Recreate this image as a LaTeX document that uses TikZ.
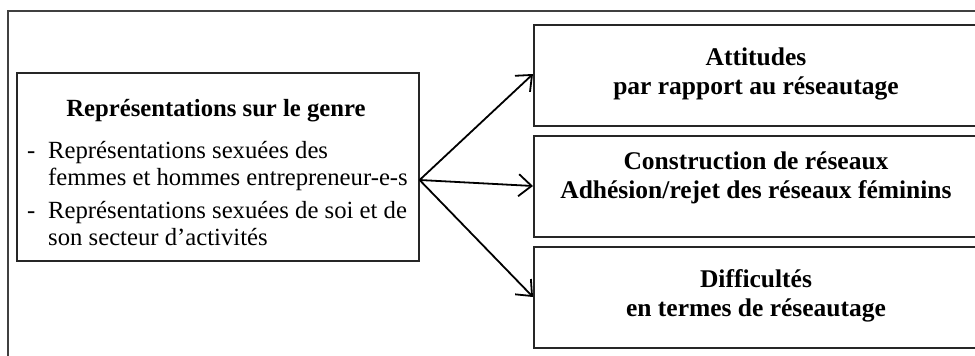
\documentclass[tikz,border=0pt]{standalone}
\usepackage{fontspec}
\setmainfont{Liberation Serif}
\usetikzlibrary{arrows.meta,calc}
\begin{document}
\begin{tikzpicture}[x=1pt,y=-1pt,
  frame/.style={draw=black!75,line width=1.3pt},
  boxstyle/.style={draw=black!85,line width=1.6pt,rectangle,inner sep=0pt,anchor=north west},
  txt/.style={inner sep=0pt,anchor=base,font=\fontsize{24.7}{29}\selectfont},
  btxt/.style={txt,font=\fontsize{24.7}{29}\selectfont\bfseries},
  rtxt/.style={txt,font=\fontsize{25.5}{30}\selectfont\bfseries},
  ltxt/.style={txt,anchor=base west},
  conn/.style={line width=1.8pt,-{Straight Barb[length=13pt,width=22pt,line width=1.8pt]}}]
\useasboundingbox (0,0) rectangle (975,356);
\clip (0,0) rectangle (975,356);
\draw[frame] (8,400) -- (8,11) -- (1000,11);
% left box
\node[boxstyle,minimum width=402pt,minimum height=188pt] (L) at (16,72) {};
\node[btxt] (t0) at (216,116) {Représentations sur le genre};
\node[ltxt] (d1) at (27,158) {-};
\node[ltxt] (l1) at (48,158) {Représentations sexuées des};
\node[ltxt] (l2) at (48,185) {femmes et hommes entrepreneur-e-s};
\node[ltxt] (d2) at (27,218) {-};
\node[ltxt] (l3) at (48,218) {Représentations sexuées de soi et de};
\node[ltxt] (l4) at (48,245) {son secteur d’activités};
% right boxes
\node[boxstyle,minimum width=480pt,minimum height=101pt] (R1) at (533,24) {};
\node[boxstyle,minimum width=480pt,minimum height=101pt] (R2) at (533,135) {};
\node[boxstyle,minimum width=480pt,minimum height=101pt] (R3) at (533,246) {};
\node[rtxt] (a1) at (756,65) {Attitudes};
\node[rtxt] (a2) at (756,94) {par rapport au réseautage};
\node[rtxt] (b1) at (756,169) {Construction de réseaux};
\node[rtxt] (b2) at (756,198) {Adhésion/rejet des réseaux féminins};
\node[rtxt] (c1) at (756,287) {Difficultés};
\node[rtxt] (c2) at (756,316) {en termes de réseautage};
% connectors
\coordinate (src) at ($(L.north east)+(0,108)$);
\coordinate (e1) at ($(R1.north west)+(0,50)$);
\coordinate (e2) at ($(R2.north west)+(0,51)$);
\coordinate (e3) at ($(R3.north west)+(0,51)$);
\draw[conn] (src) -- (e1);
\draw[conn] (src) -- (e2);
\draw[conn] (src) -- (e3);
\end{tikzpicture}
\end{document}
